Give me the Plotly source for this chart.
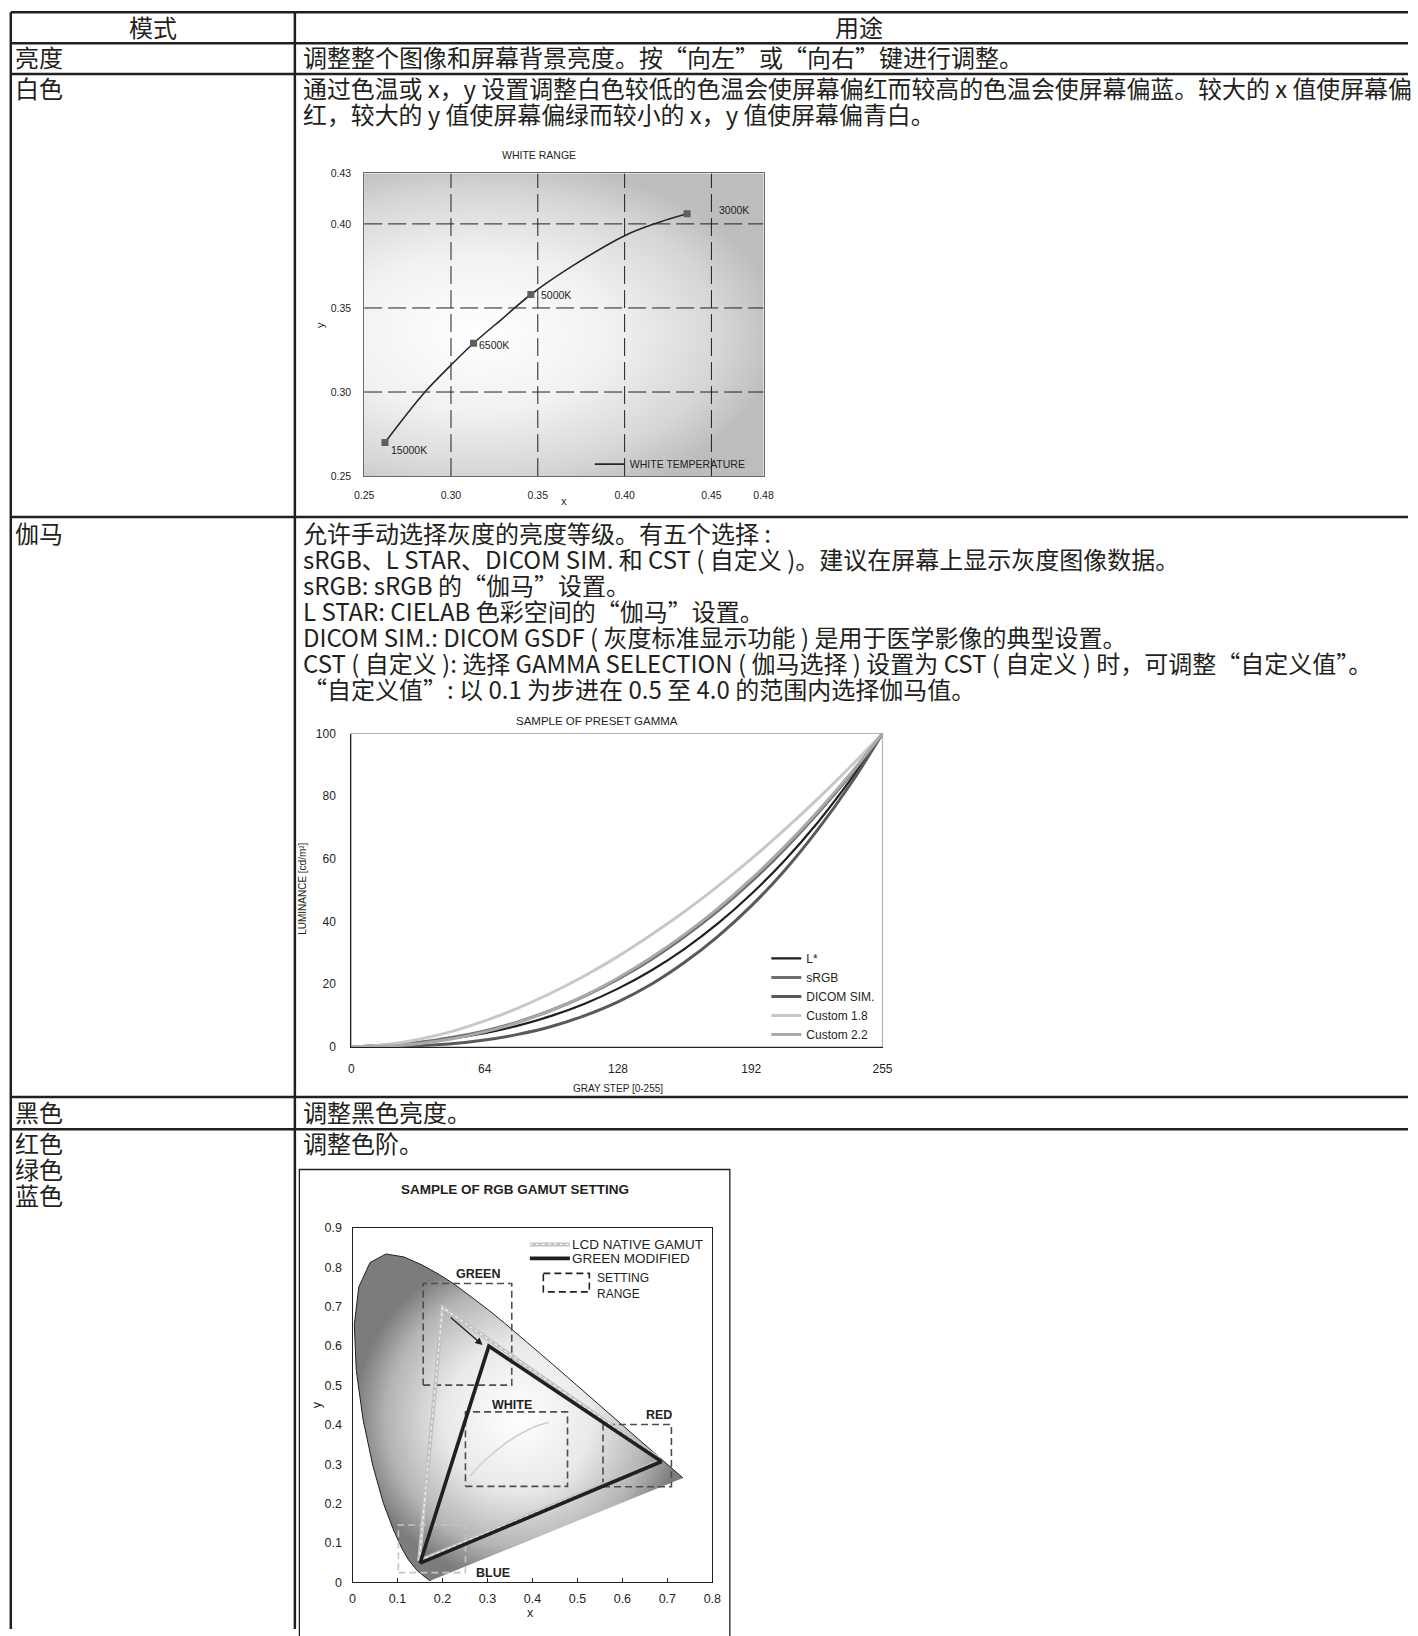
import plotly.graph_objects as go

W, H = 1418, 1636
# 截图在四周留有少量边，这里把参考图的像素坐标换算到页面坐标
SX, OX = 0.986, 9.1
SY, OY = 0.9917, 5.8

# ---- 表格文字 ----
header_mode = '模式'
header_use = '用途'
brightness_label = '亮度'
brightness_text = '调整整个图像和屏幕背景亮度。按“向左”或“向右”键进行调整。'
white_label = '白色'
white_lines = ['通过色温或 x，y 设置调整白色较低的色温会使屏幕偏红而较高的色温会使屏幕偏蓝。较大的 x 值使屏幕偏',
               '红，较大的 y 值使屏幕偏绿而较小的 x，y 值使屏幕偏青白。']
gamma_label = '伽马'
gamma_lines = ['允许手动选择灰度的亮度等级。有五个选择 :',
               'sRGB、L STAR、DICOM SIM. 和 CST ( 自定义 )。建议在屏幕上显示灰度图像数据。',
               'sRGB: sRGB 的“伽马”设置。',
               'L STAR: CIELAB 色彩空间的“伽马”设置。',
               'DICOM SIM.: DICOM GSDF ( 灰度标准显示功能 ) 是用于医学影像的典型设置。',
               'CST ( 自定义 ): 选择 GAMMA SELECTION ( 伽马选择 ) 设置为 CST ( 自定义 ) 时，可调整“自定义值”。',
               '“自定义值”: 以 0.1 为步进在 0.5 至 4.0 的范围内选择伽马值。']
black_label = '黑色'
black_text = '调整黑色亮度。'
rgb_labels = ['红色', '绿色', '蓝色']
rgb_text = '调整色阶。'

# ---- WHITE RANGE ----
wt_curve_x = [0.262, 0.285, 0.300, 0.313, 0.330, 0.346, 0.370, 0.400, 0.420, 0.436]
wt_curve_y = [0.270, 0.300, 0.316, 0.329, 0.344, 0.358, 0.375, 0.393, 0.401, 0.406]
wt_names = ['15000K', '6500K', '5000K', '3000K']
wt_x = [0.262, 0.313, 0.346, 0.436]
wt_y = [0.270, 0.329, 0.358, 0.406]
wr_xticks = [0.25, 0.30, 0.35, 0.40, 0.45, 0.48]
wr_yticks = [0.25, 0.30, 0.35, 0.40, 0.43]
wr_xgrid = [0.30, 0.35, 0.40, 0.45]
wr_ygrid = [0.30, 0.35, 0.40]

# ---- SAMPLE OF PRESET GAMMA ----
gray_step = [0, 16, 32, 48, 64, 80, 96, 112, 128, 144, 160, 176, 192, 208, 224, 240, 255]
lum_lstar = [0, 0.7, 1.5, 2.7, 4.4, 6.8, 9.9, 13.8, 18.6, 24.4, 31.3, 39.4, 48.8, 59.5, 71.7, 85.6, 100]
lum_srgb = [0, 0.5, 1.4, 3.0, 5.1, 8.0, 11.7, 16.2, 21.6, 27.9, 35.2, 43.4, 52.7, 63.1, 74.6, 87.1, 100]
lum_dicom = [0, 0.1, 0.4, 1.0, 2.2, 4.0, 6.5, 10.0, 14.4, 20.0, 27.0, 35.3, 45.0, 56.3, 69.4, 84.2, 100]
lum_c18 = [0, 0.7, 2.4, 4.9, 8.3, 12.4, 17.2, 22.7, 28.9, 35.8, 43.2, 51.3, 60.0, 69.3, 79.2, 89.7, 100]
lum_c22 = [0, 0.2, 1.0, 2.5, 4.8, 7.8, 11.7, 16.4, 22.0, 28.5, 35.9, 44.2, 53.6, 63.9, 75.2, 87.5, 100]
gamma_xticks = [0, 64, 128, 192, 255]
gamma_yticks = [0, 20, 40, 60, 80, 100]

# ---- SAMPLE OF RGB GAMUT SETTING ----
locus_x = [0.1741, 0.1738, 0.1714, 0.1644, 0.1566, 0.1440, 0.1241, 0.1096, 0.0913, 0.0687,
           0.0454, 0.0235, 0.0082, 0.0039, 0.0139, 0.0389, 0.0743, 0.1142, 0.1547, 0.1929,
           0.2296, 0.2658, 0.3016, 0.3373, 0.3731, 0.4087, 0.4441, 0.4788, 0.5125, 0.5448,
           0.5752, 0.6029, 0.6270, 0.6658, 0.6915, 0.7140, 0.7347]
locus_y = [0.0050, 0.0049, 0.0051, 0.0109, 0.0177, 0.0297, 0.0578, 0.0868, 0.1327, 0.2007,
           0.2950, 0.4127, 0.5384, 0.6548, 0.7502, 0.8120, 0.8338, 0.8262, 0.8059, 0.7816,
           0.7543, 0.7243, 0.6923, 0.6589, 0.6245, 0.5896, 0.5547, 0.5202, 0.4866, 0.4544,
           0.4242, 0.3965, 0.3725, 0.3340, 0.3083, 0.2859, 0.2653]
native_x = [0.148, 0.200, 0.687, 0.148]
native_y = [0.055, 0.698, 0.310, 0.055]
modified_x = [0.150, 0.303, 0.687, 0.150]
modified_y = [0.049, 0.600, 0.307, 0.049]
range_names = ['GREEN', 'WHITE', 'RED', 'BLUE']
range_x0 = [0.157, 0.251, 0.557, 0.102]
range_x1 = [0.354, 0.478, 0.709, 0.251]
range_y0 = [0.501, 0.244, 0.243, 0.025]
range_y1 = [0.759, 0.433, 0.401, 0.146]
range_label_x = [0.278, 0.354, 0.681, 0.313]
range_label_y = [0.782, 0.450, 0.424, 0.025]
gamut_xticks = [0, 0.1, 0.2, 0.3, 0.4, 0.5, 0.6, 0.7, 0.8]
gamut_yticks = [0, 0.1, 0.2, 0.3, 0.4, 0.5, 0.6, 0.7, 0.8, 0.9]

INK = '#231f20'
CJK = 'Noto Sans CJK SC, Liberation Sans, sans-serif'
LAT = 'Liberation Sans, Arial, sans-serif'


# 参考图像素坐标 -> paper 坐标
def px(x):
    return max((x - OX) / SX, 0.8) / W


def py(y):
    return 1 - max((y - OY) / SY, 0) / H


fig = go.Figure()
annotations = []
shapes = []


def txt(x, y, s, size=24, anchor='left', family=CJK, angle=0):
    if family == CJK:
        y -= 2  # 中文字框略偏下
    annotations.append(dict(x=px(x), y=py(y), xref='paper', yref='paper', text=s,
                            showarrow=False, xanchor=anchor, yanchor='middle', textangle=angle,
                            font=dict(family=family, size=size, color=INK)))


# ---------------- 表格 ----------------
row_lines = [11, 42, 72.7, 516, 1096, 1128.3]
for yy in row_lines:
    shapes.append(dict(type='line', xref='paper', yref='paper', x0=px(8), x1=1,
                       y0=py(yy), y1=py(yy), line=dict(color=INK, width=2.5)))
for xx in [9, 294]:
    shapes.append(dict(type='line', xref='paper', yref='paper', x0=px(xx), x1=px(xx),
                       y0=py(11), y1=0, line=dict(color=INK, width=2.5)))

txt(152, 27, header_mode, anchor='center')
txt(858, 27, header_use, anchor='center')
txt(12, 57.5, brightness_label)
txt(300, 57.5, brightness_text)
txt(12, 88.5, white_label)
for i, s in enumerate(white_lines):
    txt(300, 88.5 + 26 * i, s, size=23.9)
txt(12, 533, gamma_label)
for i, s in enumerate(gamma_lines):
    txt(300, 533 + 26 * i, s)
txt(12, 1112.5, black_label)
txt(300, 1112.5, black_text)
for i, s in enumerate(rgb_labels):
    txt(12, 1144 + 26 * i, s)
txt(300, 1144, rgb_text)

# ---------------- WHITE RANGE ----------------
xr = [wr_xticks[0], wr_xticks[-1]]
yr = [wr_yticks[0], wr_yticks[-1]]
# 背景的径向渐变（中心偏左）
bx0, bx1 = xr[0] - 0.11, xr[1] + 0.01
by0, by1 = yr[0] - 0.02, yr[1] + 0.01
fig.add_trace(go.Scatter(x=[bx0, bx1, bx1, bx0, bx0], y=[by0, by0, by1, by1, by0],
                         mode='lines', fill='toself', line=dict(width=0),
                         fillgradient=dict(type='radial',
                                           colorscale=[[0, '#ffffff'], [0.45, '#f1f1f1'], [0.8, '#d6d6d6'], [1, '#bdbdbd']]),
                         hoverinfo='skip', showlegend=False, xaxis='x', yaxis='y'))
gx, gy = [], []
for v in wr_xgrid:
    gx += [v, v, None]
    gy += [yr[0], yr[1], None]
for v in wr_ygrid:
    gx += [xr[0], xr[1], None]
    gy += [v, v, None]
fig.add_trace(go.Scatter(x=gx, y=gy, mode='lines', line=dict(color=INK, width=1, dash='18px,6px'),
                         hoverinfo='skip', showlegend=False, xaxis='x', yaxis='y'))
fig.add_trace(go.Scatter(x=wt_curve_x, y=wt_curve_y, mode='lines', line=dict(color='#2b2526', width=1.6, shape='spline'),
                         name='WHITE TEMPERATURE', legend='legend', xaxis='x', yaxis='y'))
fig.add_trace(go.Scatter(x=wt_x, y=wt_y, mode='markers', marker=dict(symbol='square', size=7, color='#5e5e5e'),
                         showlegend=False, xaxis='x', yaxis='y'))
wt_shift = [(4, -8), (3, -2), (8, 0), (30, 4)]
for n, x, y, (dx, dy) in zip(wt_names, wt_x, wt_y, wt_shift):
    annotations.append(dict(x=x, y=y, xref='x', yref='y', text=n, showarrow=False, xanchor='left',
                            yanchor='middle', xshift=dx, yshift=dy,
                            font=dict(family=LAT, size=10.5, color=INK)))

txt(538, 154, 'WHITE RANGE', size=10.5, anchor='center', family=LAT)
txt(563, 500, 'x', size=11, anchor='center', family=LAT)
txt(319, 324, 'y', size=11, anchor='center', family=LAT, angle=-90)

# ---------------- GAMMA ----------------
gamma_series = [('L*', lum_lstar, INK, 2.2), ('sRGB', lum_srgb, '#6d6e71', 3),
                ('DICOM SIM.', lum_dicom, '#58595b', 3), ('Custom 1.8', lum_c18, '#c7c8ca', 3),
                ('Custom 2.2', lum_c22, '#a7a9ac', 3)]
for name, vals, col, wd in gamma_series:
    fig.add_trace(go.Scatter(x=gray_step, y=vals, mode='lines', name=name,
                             line=dict(color=col, width=wd, shape='spline'),
                             legend='legend2', xaxis='x2', yaxis='y2'))
shapes.append(dict(type='rect', xref='x2 domain', yref='y2 domain', x0=0, x1=1, y0=0, y1=1,
                   line=dict(color='#b5b5b5', width=1.2), layer='below'))
txt(596, 719.5, 'SAMPLE OF PRESET GAMMA', size=11.5, anchor='center', family=LAT)
txt(617, 1088, 'GRAY STEP [0-255]', size=10, anchor='center', family=LAT)
txt(302, 888, 'LUMINANCE [cd/m²]', size=10, anchor='center', family=LAT, angle=-90)

# ---------------- RGB GAMUT ----------------
shapes.append(dict(type='rect', xref='paper', yref='paper', x0=px(298.5), x1=px(729), y0=py(1168.6), y1=-0.01,
                   line=dict(color=INK, width=1.3)))
fig.add_trace(go.Scatter(x=locus_x, y=locus_y, mode='lines', fill='toself', line=dict(width=0),
                         fillgradient=dict(type='radial',
                                           colorscale=[[0, '#ffffff'], [0.45, '#e9e9e9'], [0.8, '#b4b4b4'], [1, '#7c7c7c']]),
                         hoverinfo='skip', showlegend=False, xaxis='x3', yaxis='y3'))
fig.add_trace(go.Scatter(x=locus_x, y=locus_y, mode='lines', line=dict(color=INK, width=1),
                         hoverinfo='skip', showlegend=False, xaxis='x3', yaxis='y3'))
# 白色范围曲线
fig.add_trace(go.Scatter(x=wt_curve_x, y=wt_curve_y, mode='lines', line=dict(color='#cfcfcf', width=1.6, shape='spline'),
                         hoverinfo='skip', showlegend=False, xaxis='x3', yaxis='y3'))
for i, n in enumerate(range_names):
    col = '#c4c4c4' if n == 'BLUE' else '#4d4d4d'
    fig.add_trace(go.Scatter(x=[range_x0[i], range_x1[i], range_x1[i], range_x0[i], range_x0[i]],
                             y=[range_y0[i], range_y0[i], range_y1[i], range_y1[i], range_y0[i]],
                             mode='lines', line=dict(color=col, width=1.6, dash='7px,4px'),
                             hoverinfo='skip', showlegend=False, xaxis='x3', yaxis='y3'))
    annotations.append(dict(x=range_label_x[i], y=range_label_y[i], xref='x3', yref='y3', text=f'<b>{n}</b>',
                            showarrow=False, xanchor='center', yanchor='middle',
                            font=dict(family=LAT, size=12.5, color=INK)))
fig.add_trace(go.Scatter(x=native_x, y=native_y, mode='lines', line=dict(color='#c2c2c2', width=4),
                         hoverinfo='skip', showlegend=False, xaxis='x3', yaxis='y3'))
fig.add_trace(go.Scatter(x=native_x, y=native_y, mode='lines', line=dict(color='#f4f4f4', width=1.2, dash='dot'),
                         hoverinfo='skip', showlegend=False, xaxis='x3', yaxis='y3'))
fig.add_trace(go.Scatter(x=modified_x, y=modified_y, mode='lines', line=dict(color=INK, width=3.6),
                         hoverinfo='skip', showlegend=False, xaxis='x3', yaxis='y3'))
annotations.append(dict(x=0.289, y=0.603, ax=0.215, ay=0.676, xref='x3', yref='y3', axref='x3', ayref='y3',
                        text='', showarrow=True, arrowhead=2, arrowsize=1.1, arrowwidth=1.3, arrowcolor=INK))

# 图例
shapes.append(dict(type='line', xref='paper', yref='paper', x0=px(529), x1=px(569), y0=py(1243.5), y1=py(1243.5),
                   line=dict(color='#c2c2c2', width=4)))
shapes.append(dict(type='line', xref='paper', yref='paper', x0=px(529), x1=px(569), y0=py(1243.5), y1=py(1243.5),
                   line=dict(color='#f4f4f4', width=1.2, dash='dot')))
shapes.append(dict(type='line', xref='paper', yref='paper', x0=px(529), x1=px(569), y0=py(1257.5), y1=py(1257.5),
                   line=dict(color=INK, width=3.6)))
shapes.append(dict(type='rect', xref='paper', yref='paper', x0=px(542.5), x1=px(588.5), y0=py(1272.5), y1=py(1291),
                   line=dict(color=INK, width=1.6, dash='7px,4px')))
txt(569, 1243.5, 'LCD NATIVE GAMUT', size=13.5, family=LAT)
txt(569, 1257.5, 'GREEN MODIFIED', size=13.5, family=LAT)
txt(594.5, 1277.5, 'SETTING', size=12, family=LAT)
txt(594.5, 1293, 'RANGE', size=12, family=LAT)

txt(513.8, 1189, '<b>SAMPLE OF RGB GAMUT SETTING</b>', size=13.5, anchor='center', family=LAT)
txt(530, 1612.5, 'x', size=12.5, anchor='center', family=LAT)
txt(316, 1403.5, 'y', size=12.5, anchor='center', family=LAT, angle=-90)

tickfont_s = dict(family=LAT, size=10.5, color=INK)
tickfont_m = dict(family=LAT, size=12, color=INK)

fig.update_layout(
    width=W, height=H, autosize=False,
    margin=dict(l=0, r=0, t=0, b=0),
    paper_bgcolor='white', plot_bgcolor='white',
    showlegend=True,
    xaxis=dict(domain=[px(363.3), px(762.7)], range=xr, tickvals=wr_xticks,
               ticktext=[f'{v:.2f}' for v in wr_xticks], showgrid=False, zeroline=False,
               showline=True, linecolor='#6a6a6a', linewidth=1, mirror=True, ticks='',
               ticklabelstandoff=9, tickfont=tickfont_s, anchor='y'),
    yaxis=dict(domain=[py(475), py(172.3)], range=yr, tickvals=wr_yticks,
               ticktext=[f'{v:.2f}' for v in wr_yticks], showgrid=False, zeroline=False,
               showline=True, linecolor='#6a6a6a', linewidth=1, mirror=True, ticks='',
               ticklabelstandoff=10, tickfont=tickfont_s, anchor='x'),
    xaxis2=dict(domain=[px(350.5), px(881.7)], range=[0, 255], tickvals=gamma_xticks,
                showgrid=False, zeroline=False, showline=True, linecolor=INK, linewidth=1.2,
                ticks='', ticklabelstandoff=11, tickfont=tickfont_m, anchor='y2'),
    yaxis2=dict(domain=[py(1046), py(732.5)], range=[0, 100], tickvals=gamma_yticks,
                showgrid=False, zeroline=False, showline=True, linecolor=INK, linewidth=1.2,
                ticks='', ticklabelstandoff=12, tickfont=tickfont_m, anchor='x2'),
    xaxis3=dict(domain=[px(351.7), px(711.5)], range=[0, 0.8], tickvals=gamut_xticks,
                ticktext=['0' if v == 0 else f'{v:.1f}' for v in gamut_xticks],
                showgrid=False, zeroline=False, showline=True, linecolor=INK, linewidth=1.2, mirror=True,
                ticks='inside', ticklen=4, tickcolor=INK, ticklabelstandoff=4,
                tickfont=dict(family=LAT, size=12.5, color=INK), anchor='y3'),
    yaxis3=dict(domain=[py(1581.7), py(1227)], range=[0, 0.9], tickvals=gamut_yticks,
                ticktext=['0' if v == 0 else f'{v:.1f}' for v in gamut_yticks],
                showgrid=False, zeroline=False, showline=True, linecolor=INK, linewidth=1.2, mirror=True,
                ticks='', ticklabelstandoff=7,
                tickfont=dict(family=LAT, size=12.5, color=INK), anchor='x3'),
    legend=dict(x=px(589), y=py(463), xanchor='left', yanchor='middle', bgcolor='rgba(0,0,0,0)',
                font=dict(family=LAT, size=10.5, color=INK), borderwidth=0),
    legend2=dict(x=px(765.5), y=py(943), xanchor='left', yanchor='top', bgcolor='rgba(0,0,0,0)',
                 font=dict(family=LAT, size=12, color=INK), borderwidth=0, tracegroupgap=0),
    annotations=annotations,
    shapes=shapes,
)

# 去掉页面默认边距，图正好占满窗口
fig.write_html("out.html", config={'displayModeBar': False},
               post_script="document.body.style.margin='0px';")
